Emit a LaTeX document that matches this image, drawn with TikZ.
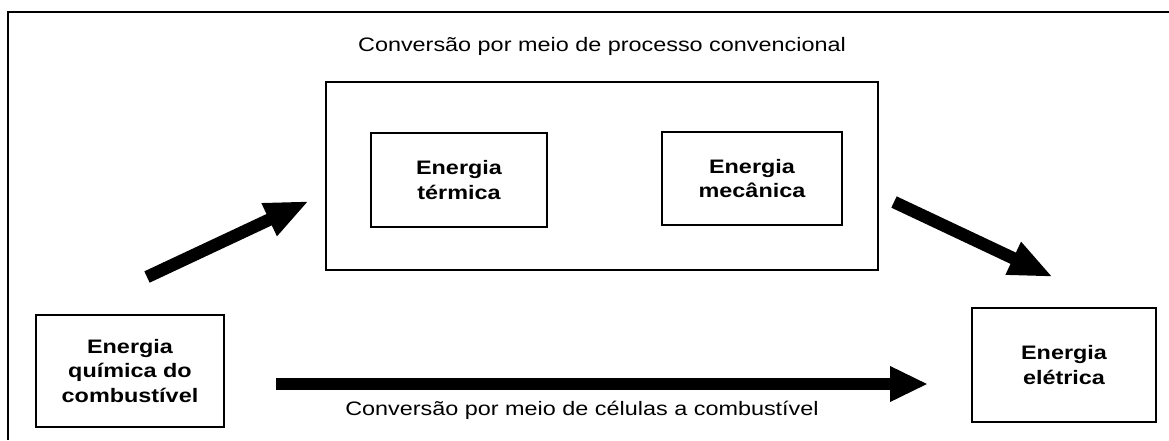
\documentclass[tikz,border=0pt]{standalone}
\usepackage{fontspec}
\setmainfont[FakeStretch=1.2]{Liberation Sans}
\usetikzlibrary{arrows.meta}
\tikzset{
  box/.style={draw, line width=1.3pt, inner sep=0pt, align=center,
    font=\fontsize{19.5}{24.7}\selectfont\bfseries},
  bigbox/.style={draw, line width=1.3pt, inner sep=0pt},
  caption/.style={inner sep=0pt, font=\fontsize{19.5}{23}\selectfont},
  fatarrow/.style={line width=12.5pt, -{Triangle[length=44pt,width=33pt]}},
  hfatarrow/.style={line width=12.5pt, -{Triangle[length=38pt,width=33pt]}},
  frame/.style={line width=1.6pt}
}
\begin{document}
\begin{tikzpicture}[x=1pt,y=-1pt]
\useasboundingbox (0,0) rectangle (1169,440);
% outer frame (top and left edges visible)
\coordinate (ftr) at (1169,12);
\coordinate (ftl) at (8,12);
\coordinate (fbl) at (8,440);
\draw[frame] (ftr) -- (ftl) -- (fbl);

\node[caption] (title) at (602,46) {Conversão por meio de processo convencional};
\node[bigbox, minimum width=552pt, minimum height=188pt] (conv) at (602,176) {};
\node[box, minimum width=176pt, minimum height=94pt] (term) at (459,180) {Energia\\térmica};
\node[box, minimum width=180pt, minimum height=93pt] (mec) at (752,178.5) {Energia\\mecânica};
\node[box, minimum width=188pt, minimum height=112pt] (quim) at (130,371) {Energia\\química do\\combustível};
\node[box, minimum width=184pt, minimum height=114pt] (elet) at (1064,365) {Energia\\elétrica};
\node[caption] (cel) at (582,410) {Conversão por meio de células a combustível};

\coordinate (a1s) at (147,277);
\coordinate (a1e) at (309,201);
\coordinate (a2s) at (894,202);
\coordinate (a2e) at (1053,277);
\coordinate (a3s) at (276,384);
\coordinate (a3e) at (928,384);
\draw[fatarrow] (a1s) -- (a1e);
\draw[fatarrow] (a2s) -- (a2e);
\draw[hfatarrow] (a3s) -- (a3e);
\end{tikzpicture}
\end{document}
